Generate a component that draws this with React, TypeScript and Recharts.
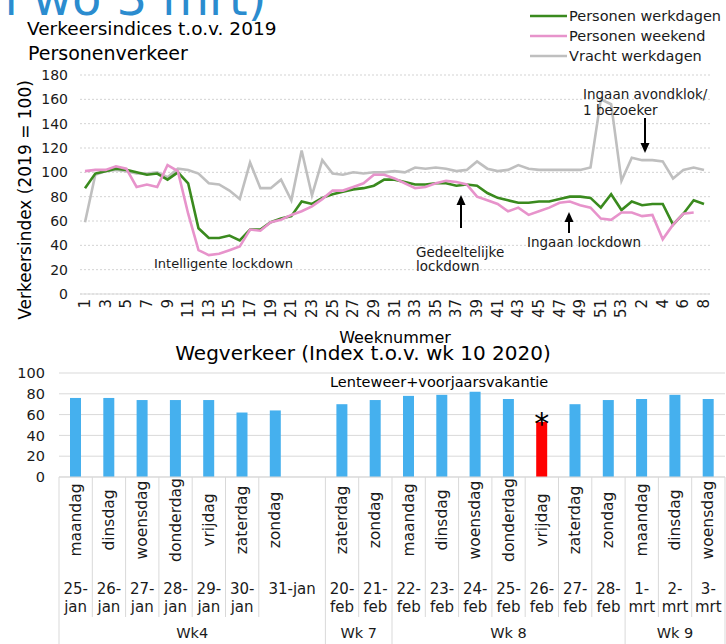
import React from "react";
import {
  Bar,
  BarChart,
  CartesianGrid,
  Cell,
  LabelList,
  Legend,
  Line,
  LineChart,
  XAxis,
  YAxis,
} from "recharts";

const FONT = '"DejaVu Sans", Verdana, sans-serif';
const W = 726;
const GRID = "#d9d9d9";
const INK = "#1a1a1a";

// ---- top chart: weekly indices vs 2019 ----
const weekLabels = [
  "1", "2", "3", "4", "5", "6", "7", "8", "9", "10",
  "11", "12", "13", "14", "15", "16", "17", "18", "19", "20",
  "21", "22", "23", "24", "25", "26", "27", "28", "29", "30",
  "31", "32", "33", "34", "35", "36", "37", "38", "39", "40",
  "41", "42", "43", "44", "45", "46", "47", "48", "49", "50",
  "51", "52", "53", "1", "2", "3", "4", "5", "6", "7", "8",
];

const werkdagen = [
  87, 99, 101, 103, 102, 100, 98, 99, 94, 100,
  91, 54, 46, 46, 48, 44, 53, 53, 59, 62,
  64, 76, 74, 79, 82, 84, 86, 87, 89, 94,
  94, 92, 90, 90, 91, 91, 89, 90, 89, 83,
  79, 77, 75, 75, 76, 76, 78, 80, 80, 79,
  71, 82, 69, 76, 73, 74, 74, 57, 66, 77, 74,
];

const weekend = [
  101, 102, 102, 105, 103, 88, 90, 88, 106, 101,
  66, 36, 32, 33, 36, 39, 53, 52, 59, 61,
  65, 68, 72, 78, 85, 85, 88, 91, 98, 98,
  95, 91, 87, 88, 91, 93, 92, 90, 80, 77,
  74, 68, 71, 65, 68, 71, 75, 76, 73, 71,
  62, 61, 67, 67, 64, 65, 45, 57, 66, 67, null,
];

const vracht = [
  59, 98, 101, 102, 101, 99, 99, 100, 96, 103,
  102, 99, 91, 90, 85, 78, 108, 87, 87, 94,
  77, 118, 81, 110, 99, 98, 100, 99, 100, 100,
  101, 100, 104, 103, 104, 103, 101, 102, 109, 103,
  101, 102, 106, 103, 102, 102, 102, 102, 102, 104,
  160, 156, 93, 112, 110, 110, 109, 95, 102, 104, 102,
];

const indexTicks = [0, 20, 40, 60, 80, 100, 120, 140, 160, 180];

const series = [
  { key: "vracht", name: "Vracht werkdagen", color: "#bfbfbf" },
  { key: "werk", name: "Personen werkdagen", color: "#3a8a1e" },
  { key: "weekend", name: "Personen weekend", color: "#e793cb" },
];
const legendOrder = ["Personen werkdagen", "Personen weekend", "Vracht werkdagen"];

const weekRows = weekLabels.map((_, i) => ({
  idx: i,
  werk: werkdagen[i],
  weekend: weekend[i],
  vracht: vracht[i],
}));

// ---- bottom chart: daily road traffic vs wk 10 2020 ----
const dayNames = [
  "maandag", "dinsdag", "woensdag", "donderdag", "vrijdag", "zaterdag", "zondag", "",
  "zaterdag", "zondag",
  "maandag", "dinsdag", "woensdag", "donderdag", "vrijdag", "zaterdag", "zondag",
  "maandag", "dinsdag", "woensdag",
];
const dates = [
  "25-jan", "26-jan", "27-jan", "28-jan", "29-jan", "30-jan", "31-jan", "",
  "20-feb", "21-feb",
  "22-feb", "23-feb", "24-feb", "25-feb", "26-feb", "27-feb", "28-feb",
  "1-mrt", "2-mrt", "3-mrt",
];
const roadIndex = [76, 76, 74, 74, 74, 62, 64, null, 70, 74, 78, 79, 82, 75, 53, 70, 74, 75, 79, 75];
const dayNotes = ["", "", "", "", "", "", "", "", "", "", "", "", "", "", "*", "", "", "", "", ""];
const weekGroups = [
  { label: "Wk4", start: 0, size: 8 },
  { label: "Wk 7", start: 8, size: 2 },
  { label: "Wk 8", start: 10, size: 7 },
  { label: "Wk 9", start: 17, size: 3 },
];
const roadTicks = [0, 20, 40, 60, 80, 100];

const dayRows = dayNames.map((_, i) => ({ id: i, value: roadIndex[i], note: dayNotes[i] }));

const BAR_LEFT = 59;
const BAR_RIGHT = 1;
const BAND = (W - BAR_LEFT - BAR_RIGHT) / dayNames.length;

function WeekTick({ x, y, payload }: any) {
  return (
    <text
      transform={`translate(${x},${y + 5}) rotate(-90)`}
      textAnchor="end"
      dominantBaseline="central"
      fontSize={15}
      fontFamily={FONT}
      fill={INK}
    >
      {weekLabels[payload.value]}
    </text>
  );
}

function DayTick({ x, y, payload }: any) {
  const i = payload.value as number;
  const left = x - BAND / 2;
  const group = weekGroups.find((g) => g.start === i);
  const day = dayNames[i];
  const date = dates[i];
  const mergeNext = i + 1 < dates.length && dates[i + 1] === "";
  const parts = date.split("-");
  return (
    <g fontFamily={FONT} fill={INK}>
      {day !== "" && (
        <line x1={left} x2={left} y1={y} y2={group ? y + 167 : y + 140} stroke={GRID} />
      )}
      {i === dayNames.length - 1 && (
        <line x1={x + BAND / 2} x2={x + BAND / 2} y1={y} y2={y + 167} stroke={GRID} />
      )}
      {day !== "" && (
        <text
          transform={`translate(${x},${y + 43}) rotate(-90)`}
          textAnchor="middle"
          dominantBaseline="central"
          fontSize={15.5}
        >
          {day}
        </text>
      )}
      {date !== "" && mergeNext && (
        <text x={x + BAND / 2} y={y + 117} textAnchor="middle" fontSize={15}>
          {date}
        </text>
      )}
      {date !== "" && !mergeNext && (
        <text x={x} y={y + 117} textAnchor="middle" fontSize={15}>
          <tspan x={x}>{parts[0] + "-"}</tspan>
          <tspan x={x} dy={18}>{parts[1]}</tspan>
        </text>
      )}
      {group && (
        <text x={left + (group.size * BAND) / 2} y={y + 161} textAnchor="middle" fontSize={14.5}>
          {group.label}
        </text>
      )}
    </g>
  );
}

function LegendBox({ payload }: any) {
  const items = [...(payload || [])].sort(
    (a: any, b: any) => legendOrder.indexOf(a.value) - legendOrder.indexOf(b.value)
  );
  return (
    <svg width={200} height={64} style={{ display: "block" }}>
      {items.map((it: any, k: number) => (
        <g key={it.value}>
          <line x1={2} x2={39} y1={12 + k * 20} y2={12 + k * 20} stroke={it.color} strokeWidth={2.5} />
          <text x={41} y={17 + k * 20} fontSize={14.5} fontFamily={FONT} fill={INK}>
            {it.value}
          </text>
        </g>
      ))}
    </svg>
  );
}

function Note(props: any) {
  const { x, y, width, value } = props;
  if (!value) return null;
  return (
    <text x={x + width / 2} y={y + 12} textAnchor="middle" fontSize={30} fontFamily={FONT} fill="#000">
      {value}
    </text>
  );
}

function Arrow({ x, from, to }: { x: number; from: number; to: number }) {
  const dir = to < from ? 1 : -1;
  return (
    <g>
      <line x1={x} x2={x} y1={from} y2={to + dir * 8} stroke="#000" strokeWidth={2} />
      <polygon points={`${x - 4.5},${to + dir * 10} ${x + 4.5},${to + dir * 10} ${x},${to}`} fill="#000" />
    </g>
  );
}

export default function App() {
  return (
    <div
      style={{
        position: "absolute",
        left: 0,
        top: 0,
        width: W,
        height: 644,
        overflow: "hidden",
        background: "#fff",
        fontFamily: FONT,
      }}
    >
      <div style={{ position: "absolute", left: 0, top: 0 }}>
        <LineChart width={W} height={345} data={weekRows} margin={{ top: 75, right: 16, left: 0, bottom: 11 }}>
          <CartesianGrid vertical={false} stroke="#d3d3d3" strokeDasharray="2 2" />
          <XAxis
            dataKey="idx"
            interval={1}
            height={40}
            padding={{ left: 5, right: 6 }}
            tickLine={false}
            tickSize={0}
            tickMargin={0}
            axisLine={{ stroke: GRID }}
            tick={<WeekTick />}
          />
          <YAxis
            width={80}
            domain={[0, 180]}
            ticks={indexTicks}
            interval={0}
            axisLine={false}
            tickLine={false}
            tickSize={0}
            tickMargin={12}
            tick={{ fontSize: 14, fill: INK, fontFamily: FONT }}
          />
          <Legend
            layout="vertical"
            align="center"
            verticalAlign="middle"
            content={<LegendBox />}
            wrapperStyle={{ top: 4, left: 528, width: 200, height: 64 }}
          />
          {series.map((s) => (
            <Line
              key={s.key}
              type="linear"
              dataKey={s.key}
              name={s.name}
              stroke={s.color}
              strokeWidth={2.6}
              dot={false}
              activeDot={false}
              isAnimationActive={false}
            />
          ))}
        </LineChart>
      </div>

      <div style={{ position: "absolute", left: 0, top: 340 }}>
        <BarChart
          width={W}
          height={304}
          data={dayRows}
          margin={{ top: 33, right: BAR_RIGHT, left: 0, bottom: 0 }}
        >
          <CartesianGrid vertical={false} stroke={GRID} />
          <XAxis
            dataKey="id"
            interval={0}
            height={167}
            tickLine={false}
            tickSize={0}
            tickMargin={0}
            axisLine={{ stroke: GRID }}
            tick={<DayTick />}
          />
          <YAxis
            width={BAR_LEFT}
            domain={[0, 100]}
            ticks={roadTicks}
            interval={0}
            axisLine={false}
            tickLine={false}
            tickSize={0}
            tickMargin={14}
            tick={{ fontSize: 14.5, fill: INK, fontFamily: FONT }}
          />
          <Bar dataKey="value" barSize={11} fill="#45b0ee" isAnimationActive={false}>
            {dayRows.map((r) => (
              <Cell key={r.id} fill={r.note ? "#ff0000" : "#45b0ee"} />
            ))}
            <LabelList dataKey="note" content={<Note />} />
          </Bar>
        </BarChart>
      </div>

      <svg
        width={W}
        height={644}
        style={{ position: "absolute", left: 0, top: 0, pointerEvents: "none", whiteSpace: "pre" }}
        fontFamily={FONT}
      >
        <text x={-13} y={15} fontSize={48} fill="#2b8ccf">
          n wo 3 mrt)
        </text>
        <text x={27} y={35} fontSize={18.5} fill="#000">
          {"Verkeersindices  t.o.v. 2019"}
        </text>
        <text x={28} y={60} fontSize={19} fill="#000">
          Personenverkeer
        </text>
        <text transform="translate(31,200) rotate(-90)" textAnchor="middle" fontSize={17} fill="#000">
          Verkeersindex (2019 = 100)
        </text>
        <text x={395} y={343} textAnchor="middle" fontSize={16} fill="#000">
          Weeknummer
        </text>

        <text x={154} y={268} fontSize={13} fill={INK}>
          Intelligente lockdown
        </text>
        <text x={416} y={257} fontSize={13.5} fill={INK}>
          Gedeeltelijke
        </text>
        <text x={416} y={271} fontSize={13.5} fill={INK}>
          lockdown
        </text>
        <Arrow x={461} from={228} to={195} />
        <text x={527} y={247} fontSize={13.5} fill={INK}>
          Ingaan lockdown
        </text>
        <Arrow x={569} from={233} to={212} />
        <text x={583} y={99} fontSize={13.5} fill={INK}>
          Ingaan avondklok/
        </text>
        <text x={583} y={115} fontSize={13.5} fill={INK}>
          1 bezoeker
        </text>
        <Arrow x={645} from={118} to={153} />

        <text x={363} y={360} textAnchor="middle" fontSize={20} fill="#000">
          Wegverkeer (Index t.o.v. wk 10 2020)
        </text>
        <text x={330} y={387} fontSize={14.5} fill="#000">
          Lenteweer+voorjaarsvakantie
        </text>
      </svg>
    </div>
  );
}
